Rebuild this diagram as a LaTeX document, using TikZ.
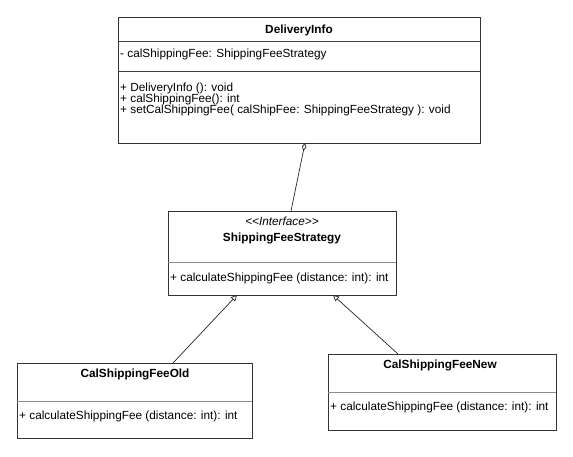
\documentclass[tikz,border=0pt]{standalone}
\usepackage{fontspec}
\setmainfont{Liberation Sans}
\usetikzlibrary{arrows.meta}
\begin{document}
\begin{tikzpicture}[x=1pt,y=-1pt,
  box/.style={draw=black!80,line width=0.8pt,rectangle,inner sep=0pt},
  sep/.style={draw=black!45,line width=0.6pt},
  sepdark/.style={draw=black!75,line width=0.7pt},
  txt/.style={inner sep=0pt,font=\fontsize{11.8}{11.8}\selectfont,text height=8.5pt,text depth=2.5pt},
  ttl/.style={txt,font=\fontsize{11.8}{11.8}\selectfont\bfseries},
  conn/.style={draw=black!85,line width=0.7pt}]
\useasboundingbox (0,0) rectangle (573,456);
% DeliveryInfo
\node[box,minimum width=362pt,minimum height=126pt] (di) at (299,80) {};
\draw[sepdark] (118,41) -- (480,41);
\draw[sepdark] (118,71) -- (480,71);
\node[ttl] (dit) at (299,30.5) {DeliveryInfo};
\node[txt,anchor=west] (dia) at (120,54) {- calShippingFee: ShippingFeeStrategy};
\node[txt,anchor=west] (dim1) at (120,88.5) {+ DeliveryInfo (): void};
\node[txt,anchor=west] (dim2) at (120,99.5) {+ calShippingFee(): int};
\node[txt,anchor=west] (dim3) at (120,110.5) {+ setCalShippingFee( calShipFee: ShippingFeeStrategy ): void};
% Interface
\node[box,minimum width=228pt,minimum height=84pt] (sfs) at (282,253) {};
\draw[sep] (168,262) -- (396,262);
\node[txt,font=\fontsize{11.8}{11.8}\selectfont\itshape] (sfss) at (282,222) {{<}{<}Interface{>}{>}};
\node[ttl] (sfst) at (282,238.5) {ShippingFeeStrategy};
\node[txt,anchor=west] (sfsm) at (170,278) {+ calculateShippingFee (distance: int): int};
% Old
\node[box,minimum width=235pt,minimum height=75pt] (old) at (134.5,400.5) {};
\draw[sep] (17,401) -- (252,401);
\node[ttl] (oldt) at (135,374.5) {CalShippingFeeOld};
\node[txt,anchor=west] (oldm) at (19,416) {+ calculateShippingFee (distance: int): int};
% New
\node[box,minimum width=228pt,minimum height=76pt] (new) at (442,392) {};
\draw[sep] (328,392) -- (556,392);
\node[ttl] (newt) at (440,365.5) {CalShippingFeeNew};
\node[txt,anchor=west] (newm) at (330,407) {+ calculateShippingFee (distance: int): int};
% connectors
\coordinate (aggA) at (305,143);
\coordinate (aggB) at (291,211);
\draw[conn,{Diamond[open,length=8pt,width=4.5pt]}-] (aggA) -- (aggB);
\coordinate (o1) at (173,363);
\coordinate (o2) at (237,295);
\draw[conn,-{Triangle[open,length=6pt,width=6pt]}] (o1) -- (o2);
\coordinate (n1) at (398,354);
\coordinate (n2) at (333,295);
\draw[conn,-{Triangle[open,length=6pt,width=6pt]}] (n1) -- (n2);
\end{tikzpicture}
\end{document}
